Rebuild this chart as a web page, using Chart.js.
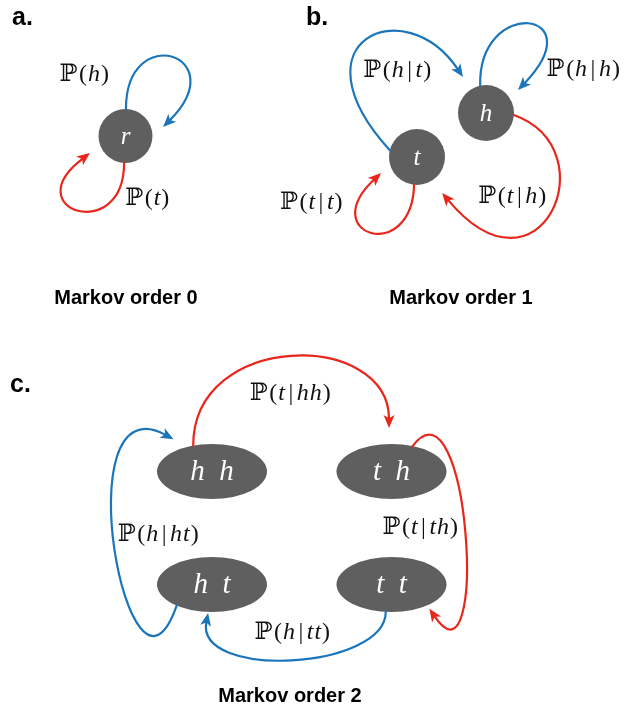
<!DOCTYPE html>
<html>
<head>
<meta charset="utf-8">
<title>Markov chains of order 0, 1 and 2</title>
<script src="https://cdn.jsdelivr.net/npm/chart.js@4.4.1/dist/chart.umd.min.js"></script>
<style>
  html, body { margin: 0; padding: 0; background: #ffffff; }
  #markovChart { display: block; }
</style>
</head>
<body>
<canvas id="markovChart" width="641" height="711"></canvas>
<script>
// States of the three chains (positions in the chart's own data units)
const nodeNames = ['r', 'h', 't', 'hh', 'th', 'ht', 'tt'];
const nodeLabels = ['r', 'h', 't', 'h h', 't h', 'h t', 't t'];
const nodeX = [125.5, 486, 417, 212, 391.5, 212, 391.5];
const nodeY = [136, 113, 157, 471.5, 471.5, 584.5, 584.5];
const nodeRadiusX = [27, 28, 28, 55, 55, 55, 55];
const nodeRadiusY = [27, 28, 28, 27.5, 27.5, 27.5, 27.5];
const nodeFontSize = [25, 25, 25, 29, 29, 29, 29];

// Transitions: from / to state, colour, where they leave and arrive (degrees)
const edgeFrom = ['r', 'r', 't', 'h', 'h', 't', 'hh', 'th', 'tt', 'ht'];
const edgeTo = ['r', 'r', 'h', 'h', 't', 't', 'th', 'tt', 'ht', 'hh'];
const edgeColour = ['blue', 'red', 'blue', 'blue', 'red', 'red', 'red', 'red', 'blue', 'blue'];
const edgeStartAngle = [-89, 93, 194, -102, 4, 96, -110, -67.5, 96, 130];
const edgeEndAngle = [-13.5, 154.4, -122.6, -35.7, 55, 156, -92, 50, 94, -125];
const edgeGap = [11.6, 12.4, 14.7, 11.4, 15.8, 11.4, 16, 4, 1, 12];
// bend of each curve: handle offsets from its start and from its end
const edgeStartHandle = [[0, -89], [0, 82], [-100, -110], [-2, -90], [96, 35], [-2, 80], [0, -115], [57, -76], [0, 58], [-47, 135]];
const edgeEndHandle = [[72, -72], [-75, 57], [-58, -87], [77, -80], [98, 117], [-66, 62], [0, -98], [60, 90], [-13, 67], [-112, -60]];

// Transition probability labels
const probLabels = ['ℙ(h)', 'ℙ(t)', 'ℙ(h|t)', 'ℙ(h|h)', 'ℙ(t|h)', 'ℙ(t|t)', 'ℙ(t|hh)', 'ℙ(t|th)', 'ℙ(h|ht)', 'ℙ(h|tt)'];
const probLabelX = [84, 147, 397, 583, 512, 311, 290, 420, 158, 292];
const probLabelY = [75, 199, 71, 70, 197, 203, 394, 528, 535, 633];

// Panel letters and captions
const panelLetters = ['a.', 'b.', 'c.'];
const panelLetterX = [12, 306, 10];
const panelLetterY = [25, 25, 392];
const captions = ['Markov order 0', 'Markov order 1', 'Markov order 2'];
const captionX = [126, 461, 290];
const captionY = [298, 298, 696];

const colours = { blue: '#1b75bb', red: '#e8261c', node: '#5f5f5f' };

document.addEventListener('DOMContentLoaded', () => {
  const rad = d => d * Math.PI / 180;

  // point on a node's outline (plus an optional gap) in data units
  function outlinePoint(i, angle, gap = 0) {
    const a = rad(angle);
    return {
      x: nodeX[i] + (nodeRadiusX[i] + gap) * Math.cos(a),
      y: nodeY[i] + (nodeRadiusY[i] + gap) * Math.sin(a)
    };
  }

  // draws "ℙ(h|ht)" with maths styling: italic letters, upright symbols
  function drawProbLabel(ctx, text, cx, cy, size) {
    const parts = [];
    for (const ch of text) {
      if (ch === 'ℙ') parts.push({ s: ch, font: `${size}px "DejaVu Serif", "Liberation Serif"`, pad: 1 });
      else if (ch === '|') parts.push({ s: ch, font: `${size}px "Liberation Serif"`, pad: 3 });
      else if (ch === '(' || ch === ')') parts.push({ s: ch, font: `${size}px "Liberation Serif"`, pad: 0.5 });
      else parts.push({ s: ch, font: `italic ${size}px "Liberation Serif"`, pad: 0.5 });
    }
    let width = 0;
    parts.forEach(p => {
      ctx.font = p.font;
      p.w = ctx.measureText(p.s).width + 2 * p.pad;
      width += p.w;
    });
    let x = cx - width / 2;
    ctx.textBaseline = 'middle';
    ctx.textAlign = 'left';
    ctx.fillStyle = '#111111';
    parts.forEach(p => {
      ctx.font = p.font;
      ctx.fillText(p.s, x + p.pad, cy);
      x += p.w;
    });
  }

  const diagramPlugin = {
    id: 'markovDiagram',
    afterDatasetsDraw(chart) {
      const ctx = chart.ctx;
      const xs = chart.scales.x;
      const ys = chart.scales.y;
      const px = v => xs.getPixelForValue(v);
      const py = v => ys.getPixelForValue(v);
      const meta = chart.getDatasetMeta(0);

      ctx.save();

      // states
      meta.data.forEach((pt, i) => {
        const rx = Math.abs(px(nodeX[i] + nodeRadiusX[i]) - pt.x);
        const ry = Math.abs(py(nodeY[i] + nodeRadiusY[i]) - pt.y);
        ctx.beginPath();
        ctx.ellipse(pt.x, pt.y, rx, ry, 0, 0, Math.PI * 2);
        ctx.fillStyle = colours.node;
        ctx.fill();
        ctx.fillStyle = '#ffffff';
        ctx.font = `italic ${nodeFontSize[i]}px "Liberation Serif"`;
        ctx.textAlign = 'center';
        ctx.textBaseline = 'middle';
        ctx.fillText(nodeLabels[i].replace(' ', '\u2002'), pt.x, pt.y + 1);
      });

      // transitions
      edgeFrom.forEach((from, k) => {
        const a = nodeNames.indexOf(from);
        const b = nodeNames.indexOf(edgeTo[k]);
        const p0 = outlinePoint(a, edgeStartAngle[k]);
        const p3 = outlinePoint(b, edgeEndAngle[k], edgeGap[k]);
        const p1 = { x: p0.x + edgeStartHandle[k][0], y: p0.y + edgeStartHandle[k][1] };
        const p2 = { x: p3.x + edgeEndHandle[k][0], y: p3.y + edgeEndHandle[k][1] };
        const colour = colours[edgeColour[k]];

        const tip = { x: px(p3.x), y: py(p3.y) };
        const ctl = { x: px(p2.x), y: py(p2.y) };
        const ang = Math.atan2(tip.y - ctl.y, tip.x - ctl.x);
        const headLen = 13;
        const headHalf = 5.5;
        // stop the line under the arrow head
        const end = { x: tip.x - Math.cos(ang) * headLen * 0.7, y: tip.y - Math.sin(ang) * headLen * 0.7 };

        ctx.beginPath();
        ctx.moveTo(px(p0.x), py(p0.y));
        ctx.bezierCurveTo(px(p1.x), py(p1.y), ctl.x, ctl.y, end.x, end.y);
        ctx.strokeStyle = colour;
        ctx.lineWidth = 2.2;
        ctx.lineCap = 'round';
        ctx.stroke();

        ctx.beginPath();
        ctx.moveTo(tip.x, tip.y);
        ctx.lineTo(tip.x - Math.cos(ang) * headLen + Math.sin(ang) * headHalf,
                   tip.y - Math.sin(ang) * headLen - Math.cos(ang) * headHalf);
        ctx.lineTo(tip.x - Math.cos(ang) * headLen * 0.75, tip.y - Math.sin(ang) * headLen * 0.75);
        ctx.lineTo(tip.x - Math.cos(ang) * headLen - Math.sin(ang) * headHalf,
                   tip.y - Math.sin(ang) * headLen + Math.cos(ang) * headHalf);
        ctx.closePath();
        ctx.fillStyle = colour;
        ctx.fill();
      });

      // probability labels
      probLabels.forEach((txt, i) => {
        drawProbLabel(ctx, txt, px(probLabelX[i]), py(probLabelY[i]), 24);
      });

      // panel letters
      ctx.fillStyle = '#000000';
      ctx.textAlign = 'left';
      ctx.textBaseline = 'alphabetic';
      ctx.font = 'bold 25px "Liberation Sans"';
      panelLetters.forEach((t, i) => ctx.fillText(t, px(panelLetterX[i]), py(panelLetterY[i])));

      // captions
      ctx.textAlign = 'center';
      ctx.textBaseline = 'middle';
      ctx.font = 'bold 20px "Liberation Sans"';
      captions.forEach((t, i) => ctx.fillText(t, px(captionX[i]), py(captionY[i])));

      ctx.restore();
    }
  };

  new Chart(document.getElementById('markovChart'), {
    type: 'scatter',
    data: {
      datasets: [{
        label: 'states',
        data: nodeNames.map((n, i) => ({ x: nodeX[i], y: nodeY[i] })),
        pointRadius: 0,
        pointHoverRadius: 0
      }]
    },
    options: {
      responsive: false,
      animation: false,
      layout: { padding: 0 },
      plugins: { legend: { display: false }, tooltip: { enabled: false } },
      scales: {
        x: { type: 'linear', min: 0, max: 641, display: false },
        y: { type: 'linear', min: 0, max: 711, reverse: true, display: false }
      }
    },
    plugins: [diagramPlugin]
  });
});
</script>
</body>
</html>
